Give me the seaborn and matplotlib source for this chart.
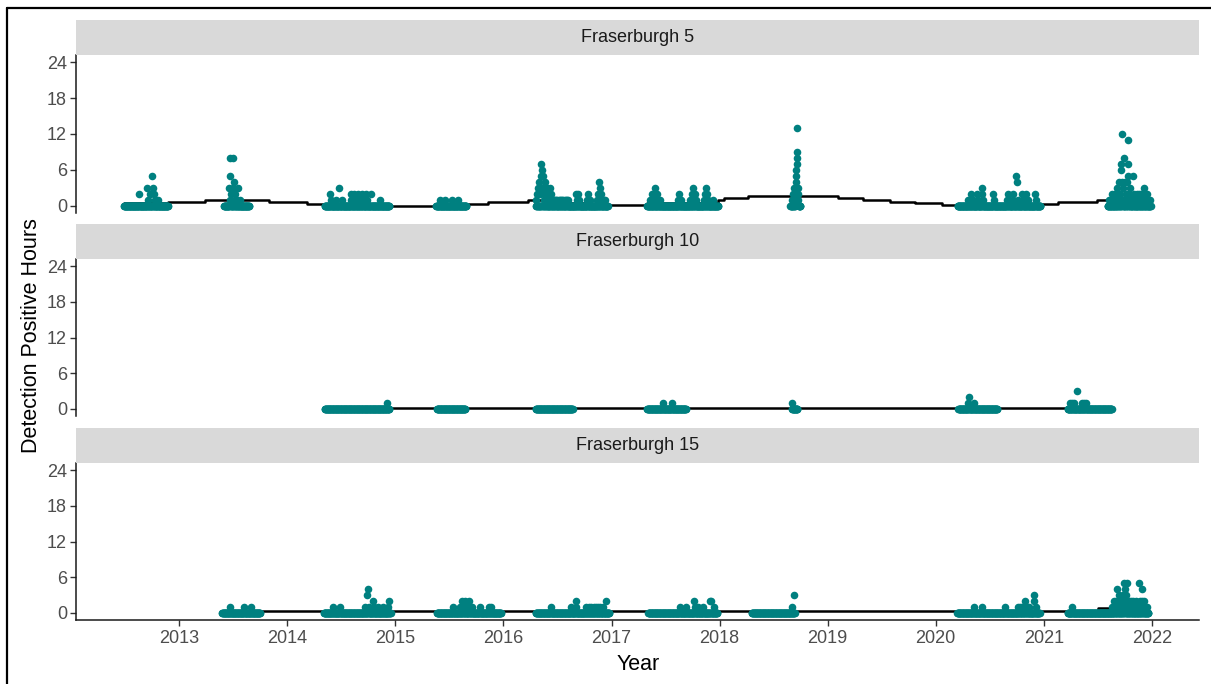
import numpy as np
import pandas as pd
import matplotlib
matplotlib.use("Agg")
import matplotlib.pyplot as plt
import matplotlib.dates as mdates
from matplotlib.patches import Rectangle
from matplotlib.lines import Line2D
import seaborn as sns

# ---------------------------------------------------------------- data
sites = ["Fraserburgh 5", "Fraserburgh 10", "Fraserburgh 15"]

# recorder deployment periods (every day inside is a logged day)
deploy_f5 = [
    ("2012-06-28", "2012-11-24"), ("2013-06-01", "2013-08-25"),
    ("2014-05-08", "2014-12-12"), ("2015-05-19", "2015-08-29"),
    ("2016-04-20", "2016-12-19"), ("2017-05-01", "2017-12-27"),
    ("2018-08-28", "2018-10-01"), ("2020-03-15", "2020-12-20"),
    ("2021-08-04", "2021-12-28"),
]
deploy_f10 = [
    ("2014-05-08", "2014-12-12"), ("2015-05-22", "2015-08-25"),
    ("2016-04-20", "2016-08-22"), ("2017-05-01", "2017-09-09"),
    ("2018-09-02", "2018-09-21"), ("2020-03-18", "2020-07-27"),
    ("2021-03-22", "2021-08-18"),
]
deploy_f15 = [
    ("2013-05-26", "2013-10-01"), ("2014-05-05", "2014-12-16"),
    ("2015-05-22", "2015-12-24"), ("2016-04-20", "2016-12-24"),
    ("2017-05-05", "2017-12-24"), ("2018-04-20", "2018-09-12"),
    ("2020-03-14", "2020-12-17"), ("2021-03-22", "2021-12-20"),
]

# days with detection positive hours > 0
detect_f5 = [
    ("2012-08-18", 2), ("2012-09-14", 3), ("2012-09-16", 1), ("2012-09-25", 2),
    ("2012-10-01", 5), ("2012-10-03", 3), ("2012-10-09", 2), ("2012-10-11", 1),
    ("2012-10-20", 1),
    ("2013-06-18", 3), ("2013-06-20", 8), ("2013-06-21", 5), ("2013-06-23", 1),
    ("2013-06-26", 2), ("2013-07-01", 3), ("2013-07-03", 8), ("2013-07-05", 4),
    ("2013-07-08", 1), ("2013-07-10", 2), ("2013-07-14", 1), ("2013-07-20", 3),
    ("2013-07-26", 1),
    ("2014-05-27", 2), ("2014-05-29", 1), ("2014-06-15", 1), ("2014-06-24", 3),
    ("2014-07-06", 1), ("2014-08-04", 2), ("2014-08-06", 1), ("2014-08-16", 2),
    ("2014-08-20", 1), ("2014-08-28", 2), ("2014-09-03", 1), ("2014-09-10", 2),
    ("2014-09-14", 1), ("2014-09-24", 2), ("2014-09-28", 1), ("2014-10-10", 2),
    ("2014-11-10", 1),
    ("2015-06-02", 1), ("2015-06-17", 1), ("2015-07-12", 1), ("2015-08-01", 1),
    ("2016-04-22", 1), ("2016-04-25", 2), ("2016-04-28", 3), ("2016-05-01", 4),
    ("2016-05-04", 2), ("2016-05-06", 5), ("2016-05-08", 7), ("2016-05-10", 6),
    ("2016-05-12", 3), ("2016-05-14", 5), ("2016-05-16", 1), ("2016-05-18", 2),
    ("2016-05-20", 4), ("2016-05-23", 1), ("2016-05-26", 3), ("2016-05-29", 2),
    ("2016-06-02", 1), ("2016-06-06", 3), ("2016-06-09", 2), ("2016-06-12", 1),
    ("2016-06-16", 1), ("2016-06-20", 1), ("2016-06-24", 1), ("2016-06-28", 1),
    ("2016-07-02", 1), ("2016-07-06", 1), ("2016-07-10", 1), ("2016-07-14", 1),
    ("2016-07-18", 1), ("2016-07-22", 1), ("2016-07-26", 1), ("2016-07-30", 1),
    ("2016-08-03", 1), ("2016-08-07", 1),
    ("2016-09-02", 2), ("2016-09-05", 1), ("2016-09-10", 2), ("2016-09-14", 1),
    ("2016-10-10", 1), ("2016-10-14", 2), ("2016-10-20", 1), ("2016-11-12", 1),
    ("2016-11-16", 2), ("2016-11-20", 4), ("2016-11-23", 3), ("2016-11-26", 2),
    ("2016-11-30", 1), ("2016-12-05", 1), ("2016-12-10", 1),
    ("2017-05-10", 1), ("2017-05-18", 2), ("2017-05-24", 1), ("2017-05-29", 3),
    ("2017-06-02", 2), ("2017-06-06", 1), ("2017-06-12", 1), ("2017-08-14", 1),
    ("2017-08-18", 2), ("2017-08-22", 1), ("2017-09-24", 1), ("2017-09-28", 2),
    ("2017-10-02", 3), ("2017-10-06", 1), ("2017-10-09", 2), ("2017-10-13", 1),
    ("2017-11-08", 1), ("2017-11-12", 2), ("2017-11-16", 3), ("2017-11-20", 2),
    ("2017-11-24", 1), ("2017-12-10", 1),
    ("2018-09-03", 1), ("2018-09-06", 2), ("2018-09-09", 3), ("2018-09-11", 1),
    ("2018-09-13", 2), ("2018-09-15", 4), ("2018-09-16", 5), ("2018-09-17", 6),
    ("2018-09-18", 7), ("2018-09-19", 8), ("2018-09-20", 9), ("2018-09-21", 13),
    ("2018-09-22", 3), ("2018-09-23", 2), ("2018-09-24", 1),
    ("2020-04-20", 1), ("2020-05-01", 2), ("2020-05-06", 1), ("2020-05-19", 2),
    ("2020-05-24", 1), ("2020-06-04", 3), ("2020-06-07", 2), ("2020-06-10", 1),
    ("2020-07-12", 2), ("2020-07-15", 1), ("2020-08-28", 1), ("2020-09-01", 2),
    ("2020-09-05", 1), ("2020-09-17", 2), ("2020-09-20", 1), ("2020-09-30", 5),
    ("2020-10-03", 4), ("2020-10-06", 1), ("2020-10-18", 2), ("2020-10-22", 1),
    ("2020-11-03", 2), ("2020-11-07", 1), ("2020-12-01", 2), ("2020-12-04", 1),
    ("2021-08-10", 1), ("2021-08-16", 1), ("2021-08-20", 2), ("2021-08-24", 1),
    ("2021-08-28", 2), ("2021-09-01", 1), ("2021-09-04", 3), ("2021-09-08", 2),
    ("2021-09-10", 1), ("2021-09-12", 4), ("2021-09-15", 2), ("2021-09-18", 7),
    ("2021-09-19", 6), ("2021-09-21", 4), ("2021-09-23", 12), ("2021-09-25", 1),
    ("2021-09-26", 3), ("2021-09-29", 8), ("2021-10-02", 4), ("2021-10-04", 1),
    ("2021-10-05", 2), ("2021-10-08", 4), ("2021-10-11", 11), ("2021-10-12", 7),
    ("2021-10-13", 5), ("2021-10-16", 2), ("2021-10-18", 1), ("2021-10-20", 3),
    ("2021-10-24", 1), ("2021-10-28", 1), ("2021-10-30", 5), ("2021-11-02", 2),
    ("2021-11-05", 1), ("2021-11-10", 2), ("2021-11-14", 1), ("2021-11-18", 2),
    ("2021-11-22", 1), ("2021-11-25", 2), ("2021-11-29", 1), ("2021-12-02", 1),
    ("2021-12-05", 3), ("2021-12-08", 2), ("2021-12-11", 1), ("2021-12-15", 2),
    ("2021-12-19", 1), ("2021-12-24", 1),
]
detect_f10 = [
    ("2014-12-05", 1), ("2017-06-25", 1), ("2017-07-23", 1), ("2018-09-03", 1),
    ("2020-04-20", 1), ("2020-04-22", 2), ("2020-05-08", 1),
    ("2021-03-29", 1), ("2021-04-05", 1), ("2021-04-12", 1), ("2021-04-23", 3),
    ("2021-05-10", 1), ("2021-05-17", 1), ("2021-05-24", 1),
]
detect_f15 = [
    ("2013-06-21", 1), ("2013-08-08", 1), ("2013-09-02", 1),
    ("2014-06-03", 1), ("2014-06-27", 1), ("2014-09-20", 1), ("2014-09-26", 3),
    ("2014-10-01", 4), ("2014-10-04", 1), ("2014-10-17", 2), ("2014-10-20", 1),
    ("2014-11-05", 1), ("2014-11-22", 1), ("2014-12-06", 1), ("2014-12-10", 2),
    ("2015-07-16", 1), ("2015-08-06", 1), ("2015-08-13", 2), ("2015-08-19", 1),
    ("2015-08-23", 2), ("2015-08-27", 1), ("2015-09-06", 2), ("2015-09-10", 1),
    ("2015-09-17", 1), ("2015-10-15", 1), ("2015-11-15", 1), ("2015-11-19", 1),
    ("2016-06-11", 1), ("2016-08-18", 1), ("2016-09-01", 2), ("2016-09-04", 1),
    ("2016-10-08", 1), ("2016-10-18", 1), ("2016-10-25", 1), ("2016-11-01", 1),
    ("2016-11-08", 1), ("2016-11-15", 1), ("2016-11-22", 1), ("2016-12-04", 1),
    ("2016-12-13", 2),
    ("2017-08-19", 1), ("2017-09-09", 1), ("2017-10-07", 2), ("2017-10-11", 1),
    ("2017-10-20", 1), ("2017-11-05", 1), ("2017-12-01", 2), ("2017-12-04", 2),
    ("2017-12-12", 1),
    ("2018-09-01", 1), ("2018-09-08", 3),
    ("2020-05-08", 1), ("2020-06-06", 1), ("2020-08-22", 1), ("2020-10-06", 1),
    ("2020-10-12", 1), ("2020-10-18", 1), ("2020-10-24", 1), ("2020-10-28", 2),
    ("2020-10-31", 1), ("2020-11-06", 1), ("2020-11-12", 1), ("2020-11-27", 3),
    ("2020-11-29", 2), ("2020-12-05", 1),
    ("2021-04-07", 1), ("2021-08-20", 1), ("2021-08-26", 2), ("2021-08-30", 1),
    ("2021-09-03", 2), ("2021-09-06", 4), ("2021-09-09", 1), ("2021-09-12", 3),
    ("2021-09-15", 2), ("2021-09-18", 1), ("2021-09-21", 2), ("2021-09-24", 3),
    ("2021-09-27", 1), ("2021-09-29", 5), ("2021-10-01", 4), ("2021-10-03", 2),
    ("2021-10-05", 3), ("2021-10-08", 5), ("2021-10-11", 1), ("2021-10-14", 2),
    ("2021-10-18", 1), ("2021-10-22", 2), ("2021-10-26", 1), ("2021-10-29", 2),
    ("2021-11-02", 1), ("2021-11-08", 2), ("2021-11-12", 1), ("2021-11-17", 5),
    ("2021-11-20", 2), ("2021-11-24", 1), ("2021-11-28", 2), ("2021-11-30", 4),
    ("2021-12-03", 1), ("2021-12-06", 2), ("2021-12-10", 1), ("2021-12-14", 1),
]

# fitted trend: interval boundaries and the level within each interval
trend_f5_dates = [
    "2012-06-28", "2012-11-24", "2013-03-28", "2013-11-01", "2014-03-08",
    "2014-05-08", "2014-12-12", "2015-05-19", "2015-08-29", "2015-11-10",
    "2016-03-26", "2016-06-30", "2016-09-30", "2016-12-19", "2017-05-01",
    "2017-12-27", "2018-01-15", "2018-04-08", "2018-07-08", "2018-11-14",
    "2019-02-06", "2019-05-01", "2019-07-31", "2019-10-23", "2020-01-22",
    "2020-03-15", "2020-12-20", "2021-02-17", "2021-06-28", "2021-08-10",
    "2021-12-28",
]
trend_f5_values = [
    0.50, 0.56, 0.94, 0.61, 0.33, 0.15, 0.00, 0.15, 0.33, 0.67,
    0.94, 0.50, 0.30, 0.12, 0.50, 0.94, 1.28, 1.56, 1.67, 1.56,
    1.28, 1.00, 0.72, 0.50, 0.22, 0.15, 0.28, 0.61, 0.94, 1.20,
]
trend_f10_dates = ["2014-05-08", "2021-08-18"]
trend_f10_values = [0.10]
trend_f15_dates = ["2013-05-26", "2021-07-01", "2021-12-20"]
trend_f15_values = [0.35, 0.75]

deployments = [deploy_f5, deploy_f10, deploy_f15]
detections = [detect_f5, detect_f10, detect_f15]
trend_dates = [trend_f5_dates, trend_f10_dates, trend_f15_dates]
trend_values = [trend_f5_values, trend_f10_values, trend_f15_values]


def daily_table(site, periods, positives):
    """One row per logged day; days without detections are 0 hours."""
    hits = {pd.Timestamp(d): h for d, h in positives}
    rows = []
    for start, end in periods:
        for day in pd.date_range(start, end, freq="D"):
            rows.append((site, day, hits.pop(day, 0)))
    rows += [(site, day, h) for day, h in hits.items()]
    return pd.DataFrame(rows, columns=["site", "date", "hours"])


def trend_table(site, bounds, levels):
    xs, ys = [], []
    for i, level in enumerate(levels):
        xs += [pd.Timestamp(bounds[i]), pd.Timestamp(bounds[i + 1])]
        ys += [level, level]
    return pd.DataFrame({"site": site, "date": xs, "value": ys})


days = pd.concat([daily_table(s, d, p) for s, d, p in zip(sites, deployments, detections)])
trend = pd.concat([trend_table(s, b, v) for s, b, v in zip(sites, trend_dates, trend_values)])

# ---------------------------------------------------------------- figure
sns.set_theme(style="ticks")
plt.rcParams["font.family"] = ["Liberation Sans", "DejaVu Sans"]

W, H = 1211, 684
fig = plt.figure(figsize=(W / 100, H / 100), dpi=100)
fig.patch.set_facecolor("white")

teal = "#008080"
tick_grey = "#4D4D4D"
left_px, right_px = 76, 1199
# (strip top, panel top, panel bottom) in pixels
layout = [(20, 55, 213), (224, 259, 416), (428, 463, 620)]
xmin, xmax = pd.Timestamp("2012-01-18"), pd.Timestamp("2022-06-09")

for i, site in enumerate(sites):
    strip_top, top, bottom = layout[i]
    ax = fig.add_axes([left_px / W, 1 - bottom / H,
                       (right_px - left_px) / W, (bottom - top) / H])
    sns.lineplot(data=trend[trend.site == site], x="date", y="value", ax=ax,
                 color="black", linewidth=1.8, estimator=None, sort=False,
                 zorder=2)
    sns.scatterplot(data=days[days.site == site], x="date", y="hours", ax=ax,
                    color=teal, s=30, linewidth=0, zorder=3)

    ax.set_xlim(xmin, xmax)
    ax.set_ylim(-1.2, 25.2)
    ax.set_yticks([0, 6, 12, 18, 24])
    ax.set_xlabel("")
    ax.set_ylabel("")
    ax.set_facecolor("white")
    for side in ["top", "right"]:
        ax.spines[side].set_visible(False)
    ax.spines["left"].set_color("#1A1A1A")
    ax.spines["left"].set_linewidth(1.1)
    ax.tick_params(axis="y", labelsize=13, labelcolor=tick_grey, color="#333333",
                   length=4, width=1.0, pad=2.5)
    ax.xaxis.set_major_locator(mdates.YearLocator())
    ax.xaxis.set_major_formatter(mdates.DateFormatter("%Y"))
    if i < len(sites) - 1:
        ax.spines["bottom"].set_visible(False)
        ax.tick_params(axis="x", bottom=False, labelbottom=False)
    else:
        ax.spines["bottom"].set_color("#1A1A1A")
        ax.spines["bottom"].set_linewidth(1.1)
        ax.tick_params(axis="x", labelsize=13, labelcolor=tick_grey,
                       color="#333333", length=4, width=1.0, pad=3)

    # facet strip
    fig.add_artist(Rectangle((left_px / W, 1 - top / H),
                             (right_px - left_px) / W, (top - strip_top) / H,
                             transform=fig.transFigure, facecolor="#D9D9D9",
                             edgecolor="none", zorder=1))
    fig.text((left_px + right_px) / 2 / W, 1 - (top + strip_top) / 2 / H, site,
             ha="center", va="center", fontsize=13, color="#1A1A1A")

fig.text(32 / W, 1 - 336 / H, "Detection Positive Hours", rotation=90,
         ha="center", va="center", fontsize=15.5, color="black")
fig.text(638 / W, 1 - 665 / H, "Year", ha="center", va="center",
         fontsize=15.5, color="black")

# frame around the figure
fig.add_artist(Line2D([7 / W, 7 / W], [0, 1 - 8 / H], transform=fig.transFigure,
                      color="black", linewidth=1.6))
fig.add_artist(Line2D([7 / W, 1], [1 - 8 / H, 1 - 8 / H], transform=fig.transFigure,
                      color="black", linewidth=1.6))

fig.savefig("out.png", dpi=100, facecolor="white")
